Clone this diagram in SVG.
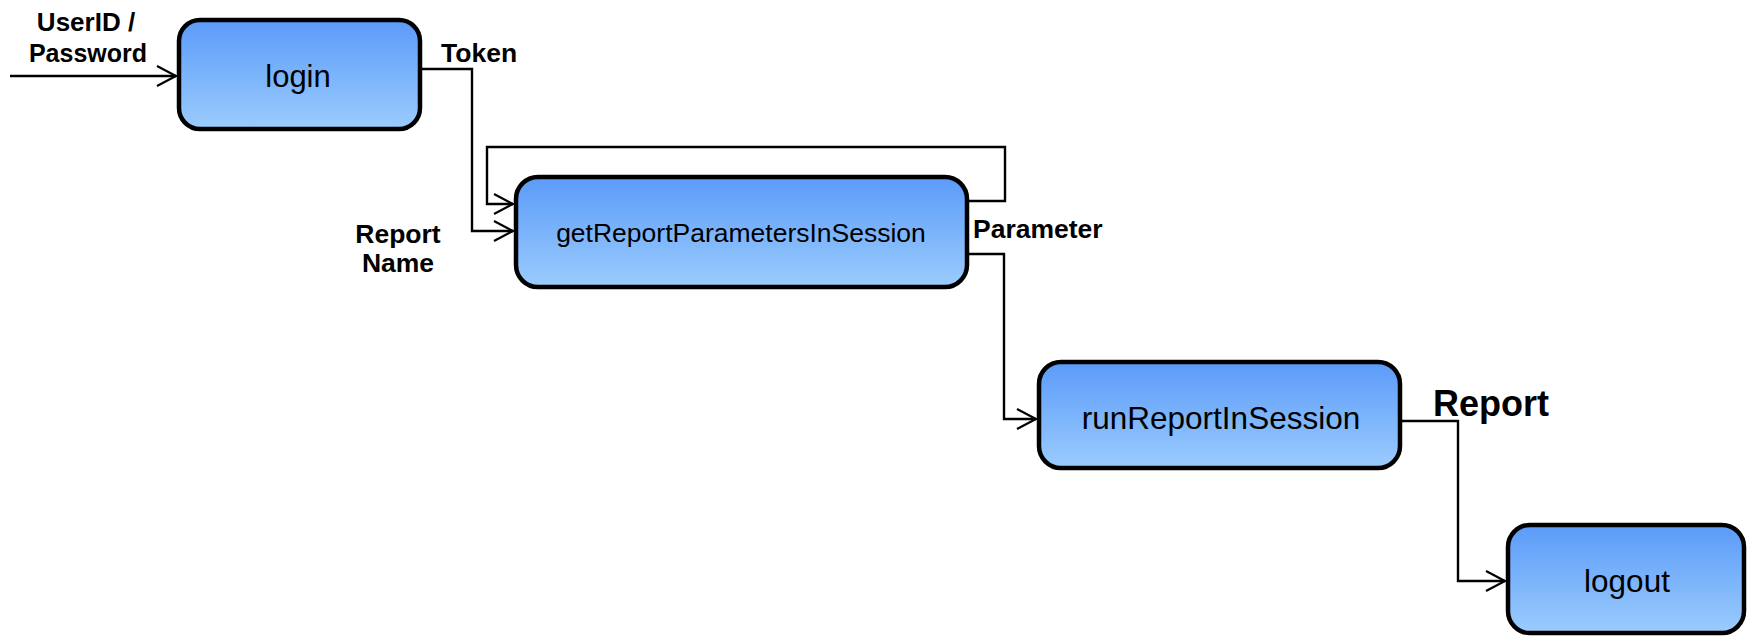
<svg xmlns="http://www.w3.org/2000/svg" width="1748" height="637" viewBox="0 0 1748 637">
<defs>
<linearGradient id="fill" x1="0" y1="0" x2="0" y2="1">
<stop offset="0" stop-color="#5b9bf9"/>
<stop offset="1" stop-color="#9bccfd"/>
</linearGradient>
<marker id="arr" markerUnits="userSpaceOnUse" markerWidth="24" markerHeight="26" viewBox="-21 -12 24 24" refX="0" refY="0" orient="auto">
<path d="M-19,-10 L0,0 L-19,10" fill="none" stroke="#000" stroke-width="2.2"/>
</marker>
</defs>
<style>
.box{fill:url(#fill);stroke:#000;stroke-width:4.5}
.conn{fill:none;stroke:#000;stroke-width:2.4}
.nt{font-family:"Liberation Sans",Arial,sans-serif;fill:#000;text-anchor:middle}
.lb{font-family:"Liberation Sans",Arial,sans-serif;font-weight:bold;fill:#000;font-size:26.5px}
</style>
<rect width="1748" height="637" fill="#fff"/>
<g id="connectors">
<path class="conn" d="M10,76 H176" marker-end="url(#arr)"/>
<path class="conn" d="M420,69 H472 V231 H513" marker-end="url(#arr)"/>
<path class="conn" d="M967,201 H1005 V147 H487 V204 H513" marker-end="url(#arr)"/>
<path class="conn" d="M967,254 H1004 V419 H1036" marker-end="url(#arr)"/>
<path class="conn" d="M1400,421 H1458 V581 H1505" marker-end="url(#arr)"/>
</g>
<g id="login">
<rect class="box" x="179" y="20" width="241" height="109" rx="21"/>
<text class="nt" x="298" y="87" font-size="31">login</text>
</g>
<g id="getReportParametersInSession">
<rect class="box" x="516" y="177" width="451" height="110" rx="22"/>
<text class="nt" x="741" y="242" font-size="26.5">getReportParametersInSession</text>
</g>
<g id="runReportInSession">
<rect class="box" x="1039" y="362" width="361" height="106" rx="22"/>
<text class="nt" x="1221" y="429" font-size="31.5">runReportInSession</text>
</g>
<g id="logout">
<rect class="box" x="1508" y="525" width="236" height="108" rx="22"/>
<text class="nt" x="1627" y="592" font-size="31.5">logout</text>
</g>
<g id="labels">
<text class="lb" x="86" y="31" text-anchor="middle" style="font-size:26px">UserID /</text>
<text class="lb" x="88" y="62" text-anchor="middle" style="font-size:25px">Password</text>
<text class="lb" x="441" y="62">Token</text>
<text class="lb" x="398" y="243" text-anchor="middle">Report</text>
<text class="lb" x="398" y="272" text-anchor="middle">Name</text>
<text class="lb" x="973" y="238">Parameter</text>
<text class="lb" x="1433" y="416" style="font-size:36px">Report</text>
</g>
</svg>
